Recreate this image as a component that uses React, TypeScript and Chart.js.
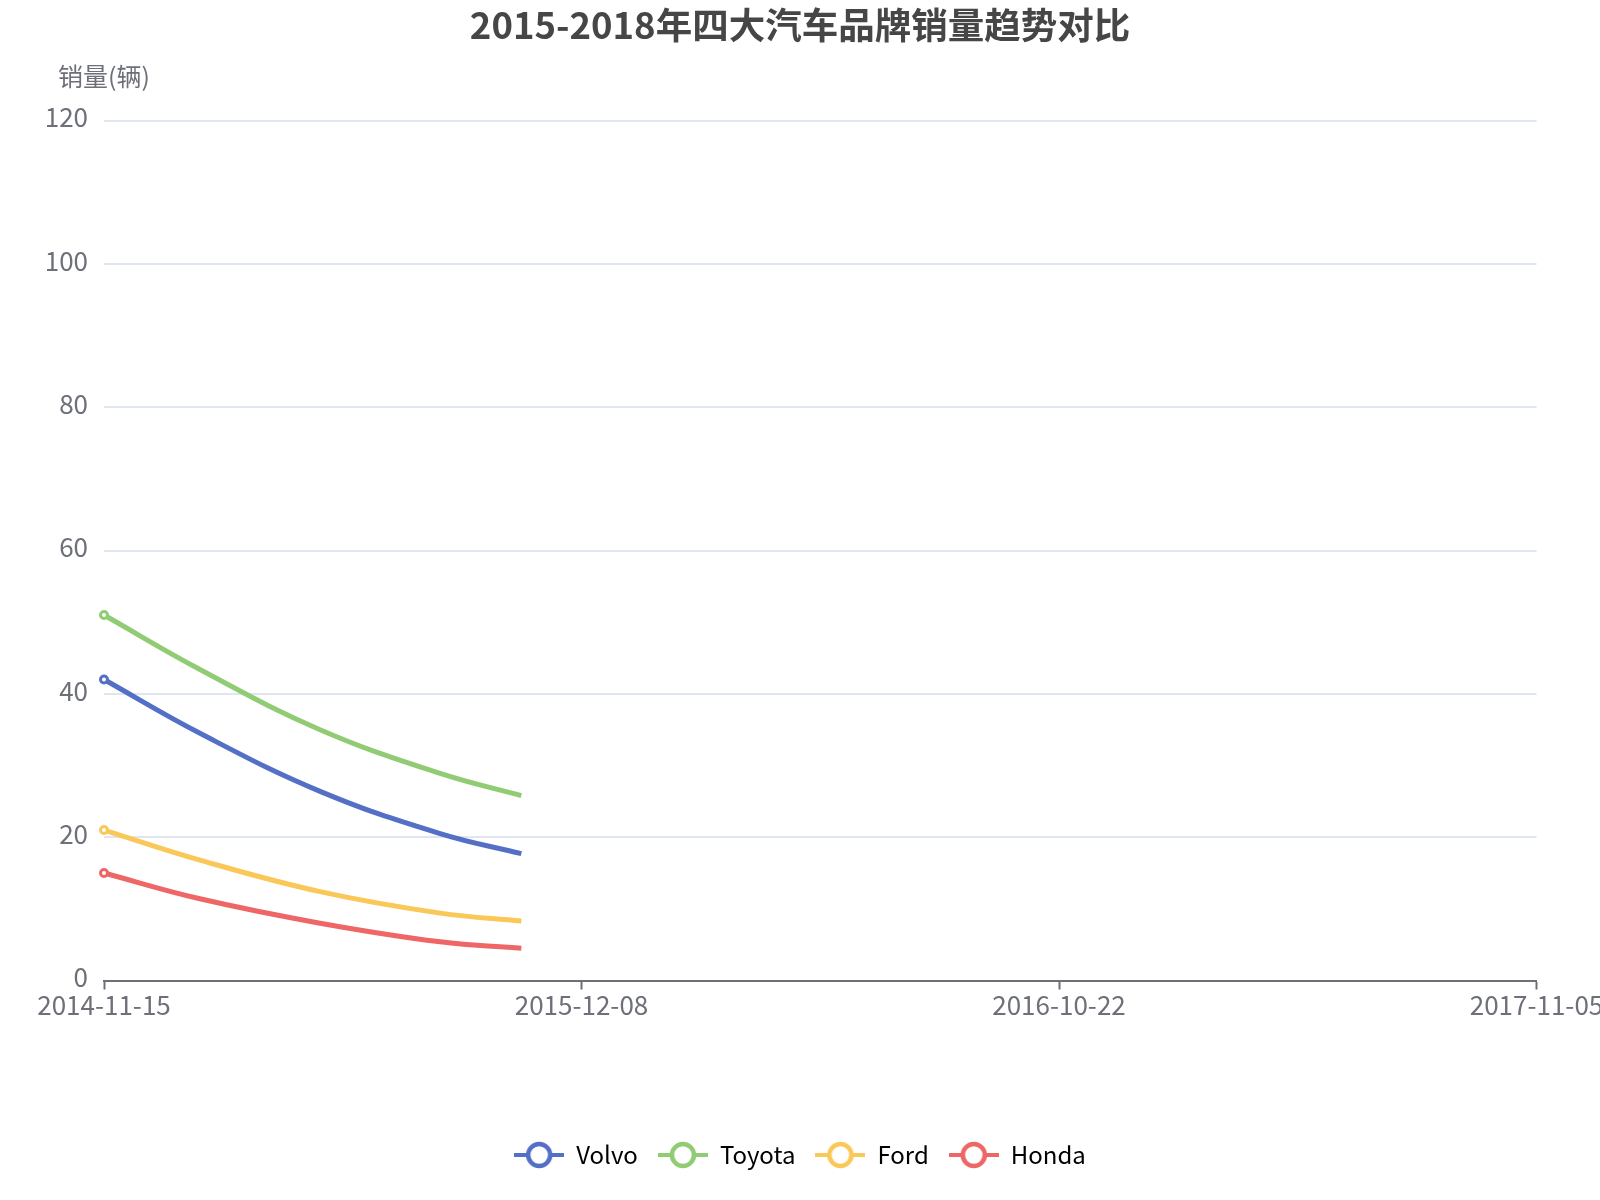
import { useEffect, useRef } from "react";
import { Chart, registerables } from "chart.js";

Chart.register(...registerables);

// x positions along the category axis (0 = first label, 3 = last label)
const xPositions = [0, 0.201, 0.4525, 0.704, 0.874];
const xLabels = ["2014-11-15", "2015-12-08", "2016-10-22", "2017-11-05"];

const volvo = [42, 34.5, 26.4, 20.5, 17.7];
const toyota = [51, 43.4, 35.0, 28.9, 25.8];
const ford = [21, 16.8, 12.4, 9.4, 8.3];
const honda = [15, 11.4, 8.0, 5.4, 4.5];

const seriesNames = ["Volvo", "Toyota", "Ford", "Honda"];
const seriesColors = ["#5470c6", "#91cc75", "#fac858", "#ee6666"];

const FONT = '"Noto Sans CJK SC", "Noto Sans", sans-serif';
const AXIS_COLOR = "#6e7079";

// legend icon: line with a hollow circle in the middle
function makeLegendIcon(color: string) {
  const c = document.createElement("canvas");
  c.width = 50;
  c.height = 30;
  const g = c.getContext("2d")!;
  g.strokeStyle = color;
  g.lineWidth = 4;
  g.beginPath();
  g.moveTo(0, 15);
  g.lineTo(50, 15);
  g.stroke();
  g.beginPath();
  g.arc(25, 15, 11, 0, Math.PI * 2);
  g.fillStyle = "#fff";
  g.fill();
  g.lineWidth = 4.5;
  g.stroke();
  return c;
}

// axis name above the y axis, and centre title/legend on the whole canvas
const axisNamePlugin = {
  id: "axisName",
  afterLayout(chart: any) {
    const shift = chart.width / 2 - (chart.legend.left + chart.legend.right) / 2;
    for (const box of [chart.legend, chart.titleBlock]) {
      if (!box) continue;
      box.left += shift;
      box.right += shift;
    }
  },
  afterDraw(chart: Chart) {
    const { ctx, chartArea } = chart;
    ctx.save();
    ctx.font = `25px ${FONT}`;
    ctx.fillStyle = AXIS_COLOR;
    ctx.textAlign = "center";
    ctx.textBaseline = "middle";
    ctx.fillText("销量(辆)", chartArea.left, 76);
    ctx.restore();
  },
};

export default function App() {
  const canvasRef = useRef<HTMLCanvasElement>(null);
  const chartRef = useRef<Chart | null>(null);

  useEffect(() => {
    if (!canvasRef.current) return;
    const ctx = canvasRef.current.getContext("2d");
    if (!ctx) return;

    const all = [volvo, toyota, ford, honda];
    const icons = seriesColors.map((c) => makeLegendIcon(c));

    chartRef.current?.destroy();
    chartRef.current = new Chart(ctx, {
      type: "line",
      data: {
        datasets: all.map((vals, i) => ({
          label: seriesNames[i],
          data: vals.map((v, j) => ({ x: xPositions[j], y: v })),
          borderColor: seriesColors[i],
          backgroundColor: "#fff",
          borderWidth: 5,
          tension: 0.4,
          pointRadius: (c: any) => (c.dataIndex === 0 ? 3.5 : 0),
          pointBorderWidth: 3,
          pointBorderColor: seriesColors[i],
          pointBackgroundColor: "#fff",
          fill: false,
          clip: false as const,
        })),
      },
      options: {
        animation: false,
        responsive: true,
        maintainAspectRatio: false,
        layout: { padding: { left: 0, right: 63.5, top: 0, bottom: 23 } },
        plugins: {
          title: {
            display: true,
            text: "2015-2018年四大汽车品牌销量趋势对比",
            color: "#464646",
            font: { family: FONT, size: 36.5, weight: "bold" },
            padding: { top: 3, bottom: 73.8 },
          },
          legend: {
            display: true,
            position: "bottom",
            labels: {
              usePointStyle: true,
              pointStyleWidth: 50,
              padding: 20,
              color: "#333",
              font: { family: FONT, size: 24 },
              generateLabels: (chart: Chart) =>
                chart.data.datasets.map((ds, i) => ({
                  text: ds.label as string,
                  pointStyle: icons[i],
                  fillStyle: seriesColors[i],
                  strokeStyle: seriesColors[i],
                  lineWidth: 0,
                  hidden: false,
                  datasetIndex: i,
                })),
            },
          },
          tooltip: { enabled: false },
        },
        scales: {
          x: {
            type: "linear",
            min: 0,
            max: 3,
            ticks: {
              stepSize: 1,
              autoSkip: false,
              maxRotation: 0,
              padding: 0,
              color: AXIS_COLOR,
              font: { family: FONT, size: 26 },
              callback: (v: any) => xLabels[Math.round(Number(v))] ?? "",
            },
            grid: {
              drawOnChartArea: false,
              drawTicks: true,
              tickLength: 9,
              tickWidth: 2,
              tickColor: AXIS_COLOR,
            },
            border: { color: AXIS_COLOR, width: 2 },
            afterFit: (scale: any) => {
              scale.height = 142.5;
              scale.paddingLeft = 0;
              scale.paddingRight = 0;
            },
          },
          y: {
            min: 0,
            max: 120,
            ticks: {
              stepSize: 20,
              padding: 16,
              labelOffset: -3,
              color: AXIS_COLOR,
              font: { family: FONT, size: 26 },
            },
            grid: { color: "#e0e6f1", lineWidth: 2, drawTicks: false },
            border: { display: false },
            afterFit: (scale: any) => {
              scale.width = 104;
            },
          },
        },
      },
      plugins: [axisNamePlugin],
    });

    return () => {
      chartRef.current?.destroy();
      chartRef.current = null;
    };
  }, []);

  return (
    <div
      style={{
        position: "absolute",
        left: 0,
        top: 0,
        width: 1600,
        height: 1200,
        background: "#fff",
      }}
    >
      <canvas ref={canvasRef}></canvas>
    </div>
  );
}
